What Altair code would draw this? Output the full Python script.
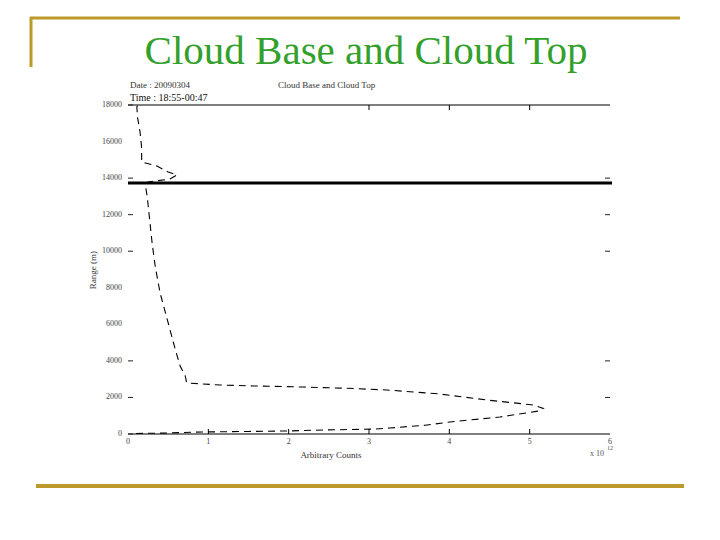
import altair as alt
import pandas as pd

# ---- data ----
counts = [0.10, 0.45, 0.92, 1.50, 1.98, 2.43, 3.08, 3.26, 3.70, 4.01, 4.63, 5.10, 5.17, 5.04, 4.47,
          3.88, 3.22, 2.73, 2.18, 1.56, 1.15, 0.73, 0.71, 0.65, 0.59, 0.49, 0.40, 0.34, 0.30, 0.27,
          0.24, 0.22, 0.25, 0.52, 0.61, 0.50, 0.36, 0.17, 0.17, 0.15, 0.12, 0.11, 0.12]
ranges = [30, 50, 110, 140, 165, 220, 270, 330, 480, 660, 930, 1250, 1400, 1590, 1860,
          2190, 2410, 2500, 2570, 2630, 2680, 2790, 3230, 3700, 4600, 6240, 7710, 9140, 10450, 11700,
          12970, 13510, 13790, 13950, 14170, 14330, 14660, 14880, 15650, 16520, 17290, 17890, 18000]
cloud_top = [13730]
x_ticks = [0, 1, 2, 3, 4, 5, 6]
y_ticks = [0, 2000, 4000, 6000, 8000, 10000, 12000, 14000, 16000, 18000]
bottom_tick_marks = [1, 2, 3, 4, 5]
top_tick_marks = [3, 4, 5]
left_tick_marks = [0, 2000, 4000, 10000, 12000, 14000, 18000]
right_tick_marks = [2000, 4000, 10000, 12000, 14000]

W, H = 482, 329
GOLD = "#bb9a2b"
GREEN = "#33a02c"
SERIF = "Liberation Serif"

prof = pd.DataFrame({"counts": counts, "range": ranges, "idx": list(range(len(counts)))})
xs = alt.Scale(domain=[0, 6], nice=False)
ys = alt.Scale(domain=[0, 18000], nice=False)

one = pd.DataFrame({"a": [0]})

line = alt.Chart(prof).mark_line(color="black", strokeWidth=1.1, strokeDash=[7, 5]).encode(
    x=alt.X("counts:Q", scale=xs, axis=None),
    y=alt.Y("range:Q", scale=ys, axis=None),
    order="idx:Q",
)

top_line = alt.Chart(pd.DataFrame({"ct": cloud_top})).mark_rule(color="black", strokeWidth=3).encode(
    y=alt.Y("ct:Q", scale=ys, axis=None), x=alt.value(0), x2=alt.value(W + 2))

frame_bottom = alt.Chart(one).mark_rule(color="black", strokeWidth=1.2).encode(
    x=alt.value(0), x2=alt.value(W), y=alt.value(H))
frame_top = alt.Chart(one).mark_rule(color="black", strokeWidth=1.2).encode(
    x=alt.value(0), x2=alt.value(W), y=alt.value(0))

bt = alt.Chart(pd.DataFrame({"v": bottom_tick_marks})).mark_rule(color="black", strokeWidth=1).encode(
    x=alt.X("v:Q", scale=xs, axis=None), y=alt.value(H), y2=alt.value(H - 5))
tt = alt.Chart(pd.DataFrame({"v": top_tick_marks})).mark_rule(color="black", strokeWidth=1).encode(
    x=alt.X("v:Q", scale=xs, axis=None), y=alt.value(0), y2=alt.value(5))
lt = alt.Chart(pd.DataFrame({"v": left_tick_marks})).mark_rule(color="#222", strokeWidth=1).encode(
    y=alt.Y("v:Q", scale=ys, axis=None), x=alt.value(0), x2=alt.value(5))
rt = alt.Chart(pd.DataFrame({"v": right_tick_marks})).mark_rule(color="#222", strokeWidth=1).encode(
    y=alt.Y("v:Q", scale=ys, axis=None), x=alt.value(W - 5), x2=alt.value(W))

xlab = alt.Chart(pd.DataFrame({"v": x_ticks})).mark_text(
    font=SERIF, fontSize=8, color="#444", align="center", baseline="top").encode(
    x=alt.X("v:Q", scale=xs, axis=None), y=alt.value(H + 4), text=alt.Text("v:Q", format="d"))
ylab = alt.Chart(pd.DataFrame({"v": y_ticks})).mark_text(
    font=SERIF, fontSize=8, color="#444", align="right", baseline="middle").encode(
    y=alt.Y("v:Q", scale=ys, axis=None), x=alt.value(-6), text=alt.Text("v:Q", format="d"))


def txt(s, x, y, size, color="#333", align="left", font=SERIF, angle=0, baseline="alphabetic"):
    kw = dict(align=align, font=font, fontSize=size, color=color, baseline=baseline)
    if angle:
        kw["angle"] = angle
    return alt.Chart(one).mark_text(**kw).encode(x=alt.value(x), y=alt.value(y), text=alt.value(s))


texts = [
    txt("Cloud Base and Cloud Top", 238, -41, 41, color=GREEN, align="center"),
    txt("Date : 20090304", 2, -17, 9),
    txt("Time : 18:55-00:47", 2, -4, 10, color="#111"),
    txt("Cloud Base and Cloud Top", 150, -17, 9),
    txt("Arbitrary Counts", 203, 353, 9, align="center"),
    txt("x 10", 462, 351, 8, color="#555"),
    txt("12", 479, 345, 6, color="#555"),
    txt("Range (m)", -32, 165, 9, align="center", angle=270),
]

gold_top = alt.Chart(one).mark_rule(color=GOLD, strokeWidth=3).encode(
    x=alt.value(-98), x2=alt.value(552), y=alt.value(-87))
gold_left = alt.Chart(one).mark_rule(color=GOLD, strokeWidth=3).encode(
    x=alt.value(-97), y=alt.value(-88), y2=alt.value(-38))
gold_bottom = alt.Chart(one).mark_rule(color=GOLD, strokeWidth=4).encode(
    x=alt.value(-92), x2=alt.value(556), y=alt.value(381))

chart = alt.layer(
    line, top_line, frame_bottom, frame_top, bt, tt, lt, rt, xlab, ylab,
    gold_top, gold_left, gold_bottom, *texts
).properties(
    width=W, height=H,
    padding={"left": 120, "top": 97, "right": 102, "bottom": 98},
    autosize=alt.AutoSizeParams(type="none"),
    background="white",
).configure_view(stroke=None)

chart.save("out.html", embed_options={"renderer": "svg", "actions": False})
